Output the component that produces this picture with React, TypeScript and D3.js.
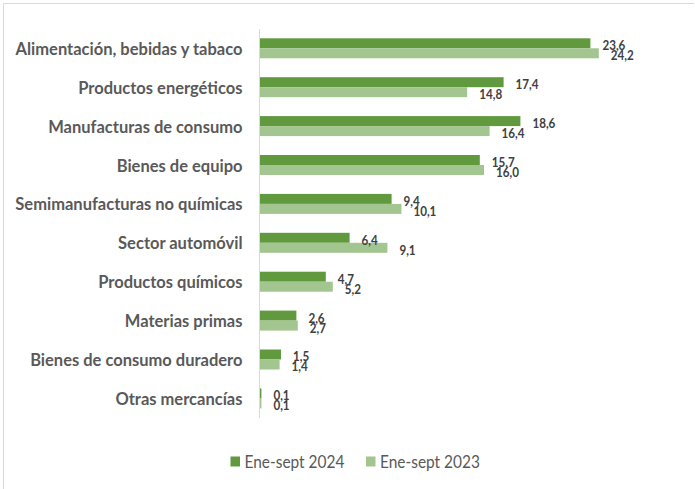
import React, { useLayoutEffect, useRef, useState } from "react";
import * as d3 from "d3";

const categories = [
  "Alimentación, bebidas y tabaco",
  "Productos energéticos",
  "Manufacturas de consumo",
  "Bienes de equipo",
  "Semimanufacturas no químicas",
  "Sector automóvil",
  "Productos químicos",
  "Materias primas",
  "Bienes de consumo duradero",
  "Otras mercancías",
];
const values2024 = [23.6, 17.4, 18.6, 15.7, 9.4, 6.4, 4.7, 2.6, 1.5, 0.1];
const values2023 = [24.2, 14.8, 16.4, 16.0, 10.1, 9.1, 5.2, 2.7, 1.4, 0.1];
const seriesNames = ["Ene-sept 2024", "Ene-sept 2023"];
const seriesColors = ["#619a3e", "#a3c58f"];

const W = 695;
const H = 489;
const FONT = "Lato, 'Open Sans', sans-serif";

// target widths (px)
const TARGET_CAT = 227; // "Alimentación, bebidas y tabaco"
const TARGET_VAL = 23; // "23,6"
const TARGET_LEG = 100; // "Ene-sept 2024"

export default function App() {
  const catRef = useRef<SVGTextElement>(null);
  const valRef = useRef<SVGTextElement>(null);
  const legRef = useRef<SVGTextElement>(null);
  const [sc, setSc] = useState({ cat: 1, val: 1, leg: 1 });

  useLayoutEffect(() => {
    const m = (r: React.RefObject<SVGTextElement | null>, t: number) => {
      const w = r.current ? r.current.getComputedTextLength() : 0;
      return w > 0 ? t / w : 1;
    };
    setSc({ cat: m(catRef, TARGET_CAT), val: m(valRef, TARGET_VAL), leg: m(legRef, TARGET_LEG) });
  }, []);

  const x = d3.scaleLinear().domain([0, 30]).range([260, 680]);
  const y = d3
    .scaleBand<string>()
    .domain(categories)
    .range([28.85, 417.85])
    .paddingInner(0.486)
    .paddingOuter(0.243);
  const inner = d3.scaleBand<string>().domain(seriesNames).range([0, y.bandwidth()]);
  const series = [values2024, values2023];

  const fmt = (v: number) => d3.format(".1f")(v).replace(".", ",");

  return (
    <svg
      width={W}
      height={H}
      style={{ position: "fixed", left: 0, top: 0, background: "#fff" }}
      fontFamily={FONT}
    >
      <rect x={0} y={0} width={W} height={H} fill="#fff" />
      <line x1={3.5} y1={3.5} x2={694} y2={3.5} stroke="#d9d9d9" strokeWidth={1} />
      <line x1={3.5} y1={3.5} x2={3.5} y2={H} stroke="#d9d9d9" strokeWidth={1} />

      {/* hidden measuring texts */}
      <g visibility="hidden">
        <text ref={catRef} fontSize={17} fontWeight="bold">{categories[0]}</text>
        <text ref={valRef} fontSize={14} fontWeight="bold">{fmt(values2024[0])}</text>
        <text ref={legRef} fontSize={16.5}>{seriesNames[0]}</text>
      </g>

      {categories.map((c, i) => (
        <g key={c}>
          {series.map((vals, s) => (
            <rect
              key={s}
              x={x(0)}
              y={(y(c) as number) + (inner(seriesNames[s]) as number)}
              width={x(vals[i]) - x(0)}
              height={inner.bandwidth()}
              fill={seriesColors[s]}
            />
          ))}
          {series.map((vals, s) => (
            <text
              key={"l" + s}
              transform={`translate(${x(vals[i]) + 12},${
                (y(c) as number) + (inner(seriesNames[s]) as number) + inner.bandwidth() / 2 + 1.5
              }) scale(${sc.val},1)`}
              dominantBaseline="central"
              fontSize={14}
              fontWeight="bold"
              fill="#404040"
            >
              {fmt(vals[i])}
            </text>
          ))}
          <text
            transform={`translate(242.5,${(y(c) as number) + y.bandwidth() / 2}) scale(${sc.cat},1)`}
            dominantBaseline="central"
            textAnchor="end"
            fontSize={17}
            fontWeight="bold"
            fill="#595959"
          >
            {c}
          </text>
        </g>
      ))}

      <line x1={259.5} y1={29} x2={259.5} y2={418} stroke="#d9d9d9" strokeWidth={1} />

      {seriesNames.map((s, i) => {
        const lx = [230.5, 366][i];
        return (
          <g key={s}>
            <rect x={lx} y={456.5} width={9.5} height={10} fill={seriesColors[i]} />
            <text
              transform={`translate(${lx + 14},461.5) scale(${sc.leg},1)`}
              dominantBaseline="central"
              fontSize={16.5}
              fill="#595959"
            >
              {s}
            </text>
          </g>
        );
      })}
    </svg>
  );
}
